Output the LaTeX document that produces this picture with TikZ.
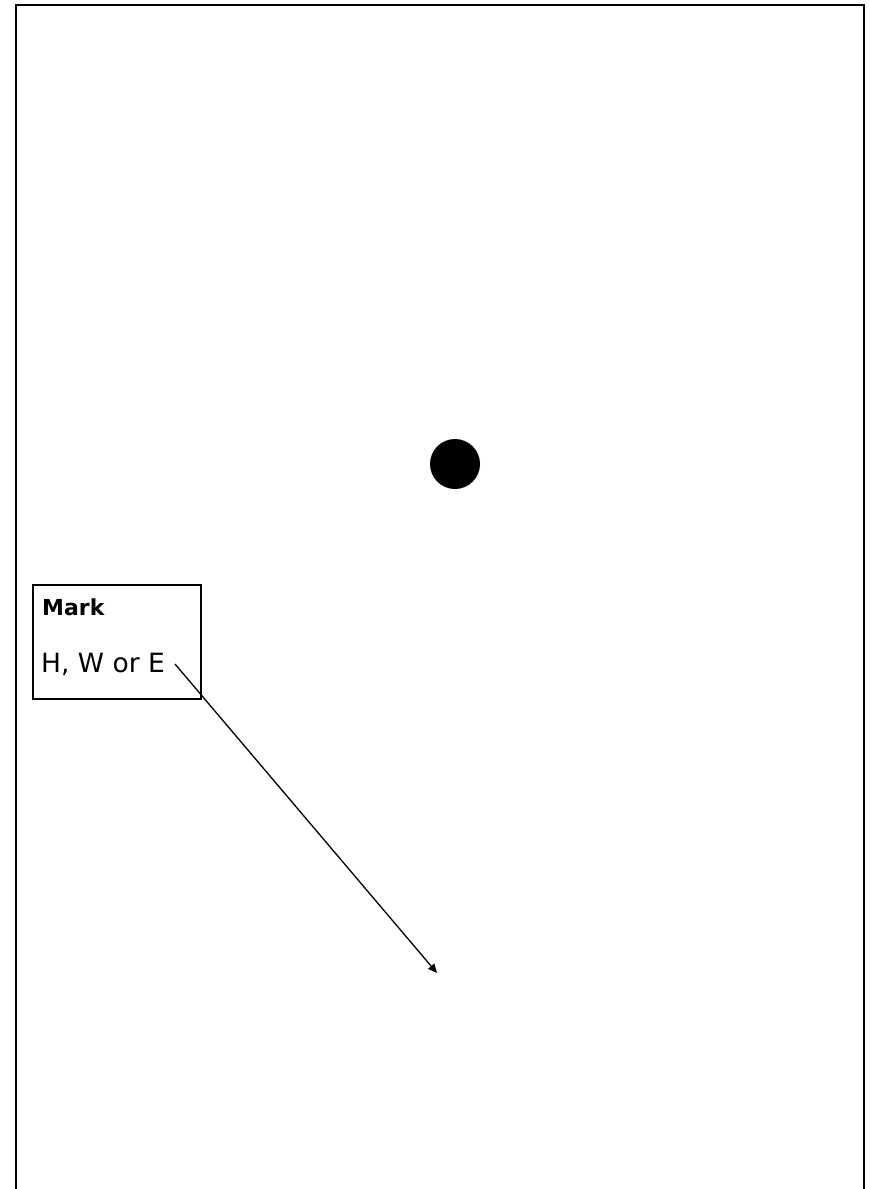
\documentclass[tikz,border=0pt]{standalone}
\usepackage{fontspec}
\setmainfont{DejaVu Sans}
\usetikzlibrary{arrows.meta}
\tikzset{
  frame/.style={draw=black, line width=2pt},
  markbox/.style={draw=black, line width=1.5pt, minimum width=168pt, minimum height=114pt, inner sep=0pt},
  lbl/.style={anchor=base west, inner sep=0pt},
  pointer/.style={draw=black, line width=1.3pt, -{Triangle[length=9pt,width=8pt]}},
}
\begin{document}
\begin{tikzpicture}[x=1pt,y=-1pt]
\useasboundingbox (0,0) rectangle (870,1189);
\fill[white] (0,0) rectangle (870,1189);
% outer frame (bottom edge runs off the page)
\draw[frame] (16,1200) -- (16,5) -- (864,5) -- (864,1200);
% dot
\node[circle, fill=black, minimum size=50pt, inner sep=0pt] (dot) at (455,464) {};
% legend box
\node[markbox] (box) at (117,642) {};
\node[lbl, font=\fontsize{22}{26}\selectfont\bfseries] (mark) at (42,615) {Mark};
\node[lbl, font=\fontsize{26.5}{30}\selectfont] (hwe) at (41,672) {H, W or E};
% pointer
\coordinate (s) at (175,664);
\coordinate (t) at (437,973);
\draw[pointer] (s) -- (t);
\end{tikzpicture}
\end{document}
